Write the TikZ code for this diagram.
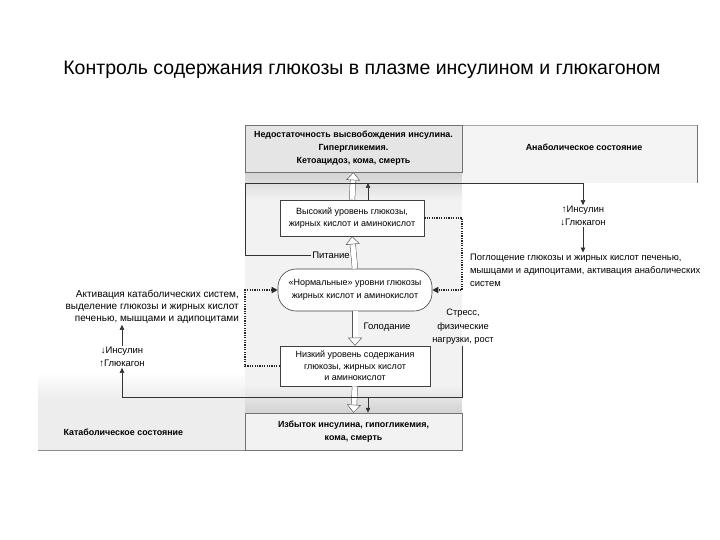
\documentclass[tikz,border=0pt]{standalone}
\usepackage{fontspec}
\setmainfont{Liberation Sans}
\usetikzlibrary{arrows.meta, positioning}

\begin{document}
\begin{tikzpicture}[x=1pt, y=-1pt,
    font=\fontsize{9.5}{12.5}\selectfont,
    level/.style={draw=black!75, fill=white, line width=0.6pt, align=center, inner sep=2pt,
        font=\fontsize{9}{12.5}\selectfont},
    outcome/.style={draw=black!55, line width=0.5pt, fill=gray!20, align=center,
        font=\fontsize{8.9}{13}\selectfont\bfseries},
    tip/.style={draw=black!80, line width=0.6pt, -{Triangle[length=5pt, width=4.5pt]}},
    dots/.style={draw=black!85, line width=1.5pt, dash pattern=on 1.2pt off 1.2pt,
        -{Triangle[length=6pt, width=6pt]}},
    bigarrow/.style={draw=black!65, double=white, double distance=5pt, line width=0.5pt,
        -{Triangle[open, fill=white, length=8pt, width=14pt]}},
    note/.style={align=center, inner sep=1pt}
]
                    \useasboundingbox (0,0) rectangle (720,540);

                    % shaded areas
                    \fill[gray!10] (245,172) rectangle (462,413);
                    \shade[top color=gray!35, bottom color=gray!10] (245,172) rectangle (462,200);
                    \shade[top color=gray!10, bottom color=gray!35] (245,385) rectangle (462,413);
                    \fill[gray!9] (462,125) rectangle (697,183);
                    \draw[black!35, line width=0.5pt] (462,125) -- (697,125);
                    \draw[black!55, line width=0.6pt] (697,125) -- (697,183);
                    \shade[top color=white, bottom color=gray!14] (38,372) rectangle (245,397);
                    \fill[gray!14] (38,397) rectangle (245,450);
                    \draw[black!45, line width=0.5pt] (38,450) -- (245,450);

                    \node[font=\fontsize{19.5}{22}\selectfont] (title) at (362,70)
                        {Контроль содержания глюкозы в плазме инсулином и глюкагоном};

                    \node[outcome, minimum width=217pt, minimum height=47pt] (lack) at (353.5,148.5)
                        {Недостаточность высвобождения инсулина.\\Гипергликемия.\\Кетоацидоз, кома, смерть};
                    \node[outcome, fill=gray!10, minimum width=217pt, minimum height=37pt] (excess) at (353.5,431.5)
                        {Избыток инсулина, гипогликемия,\\кома, смерть};
                    \node[font=\fontsize{8.9}{13}\selectfont\bfseries] (anabl) at (584,147) {Анаболическое состояние};
                    \node[font=\fontsize{8.9}{13}\selectfont\bfseries, anchor=west] (catabl) at (60,432) {Катаболическое состояние};

                    \node[level, minimum width=144pt, minimum height=36pt] (high) at (352,218)
                        {Высокий уровень глюкозы,\\жирных кислот и аминокислот};
                    \node[level, rounded corners=18pt, minimum width=154pt, minimum height=42pt] (norm) at (355,290)
                        {«Нормальные» уровни глюкозы\\жирных кислот и аминокислот};
                    \node[level, font=\fontsize{9}{11.5}\selectfont, minimum width=150pt, minimum height=40pt] (low) at (355,366)
                        {Низкий уровень содержания\\глюкозы, жирных кислот\\и аминокислот};

                    \node[note, fill=gray!10] (pit) at (331,255) {Питание};
                    \node[note] (golod) at (387,327) {Голодание};
                    \node[note, font=\fontsize{9.3}{13.5}\selectfont] (stress) at (463,327) {Стресс,\\физические\\нагрузки, рост};

                    \node[note] (insA) at (583,216) {↑Инсулин\\↓Глюкагон};
                    \node[note, align=left, anchor=west, font=\fontsize{9.4}{13}\selectfont] (absorb) at (469,270)
                        {Поглощение глюкозы и жирных кислот печенью,\\мышцами и адипоцитами, активация анаболических\\систем};
                    \node[note] (insB) at (122,357) {↓Инсулин\\↑Глюкагон};
                    \node[note, align=right, anchor=east, font=\fontsize{10}{12}\selectfont] (actv) at (240,307)
                        {Активация катаболических систем,\\выделение глюкозы и жирных кислот\\печенью, мышцами и адипоцитами};

                    \coordinate (tl) at (245,183);
                    \coordinate (hiup) at (368,183);
                    \coordinate (rd) at (462,290);
                    \coordinate (ld) at (245,290);
                    \coordinate (br) at (462,397);
                    \coordinate (lodn) at (368,397);

                    \foreach \a/\b in {norm.north/high.south, high.north/lack.south, norm.south/low.north, low.south/excess.north} {
                        \draw[bigarrow] (\a) -- (\b);
                    }

                    \draw[tip] (pit.west) -| (tl) -| (insA.north);
                    \draw[tip] (insA.south) -- (insA.south |- absorb.north);
                    \draw[tip] (high.north -| hiup) -- (hiup);
                    \draw[tip] (stress.south -| br) -- (br) -| (insB.south);
                    \draw[tip] (lodn) -- (lodn |- excess.north);
                    \draw[tip] (insB.north) -- (insB.north |- actv.south);

                    \draw[dots] (high.east) -| (rd) -- (norm.east);
                    \draw[dots] (low.west) -| (ld) -- (norm.west);
                \end{tikzpicture}
\end{document}
